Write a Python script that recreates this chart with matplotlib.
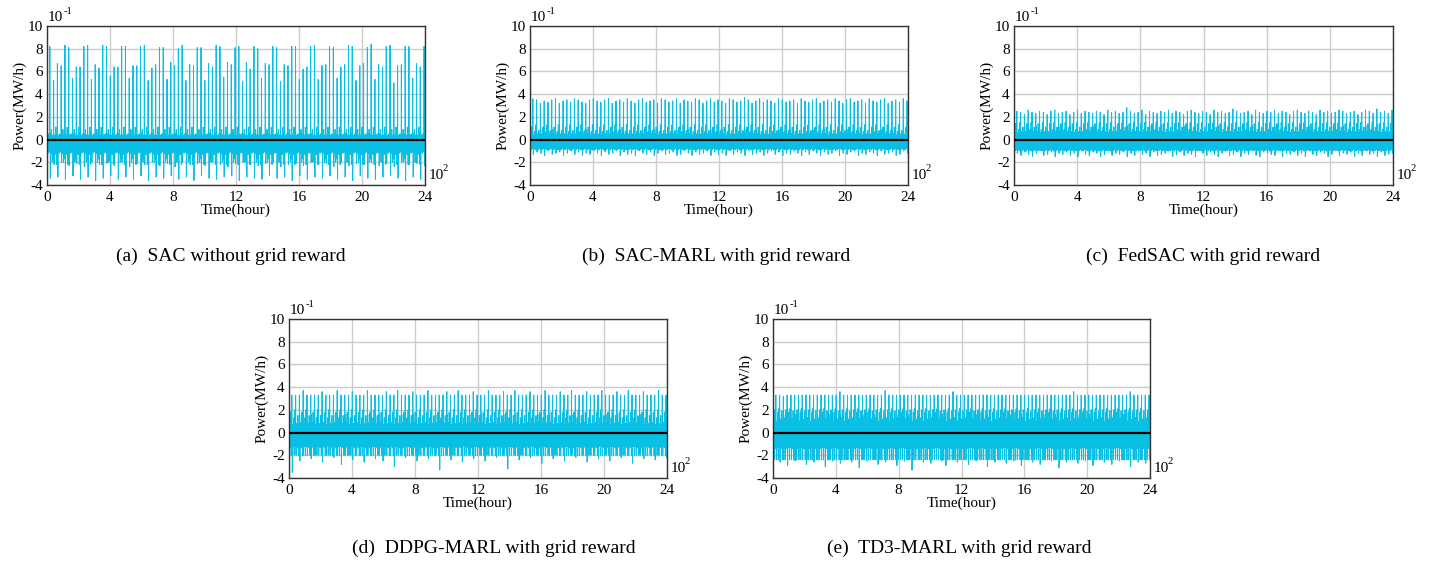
import matplotlib.pyplot as plt
import numpy as np

plt.rcParams['font.family'] = ['Liberation Serif', 'DejaVu Serif']
plt.rcParams['axes.unicode_minus'] = False

# daily peak power (x10^-1 MW/h), one value per day, 100 days
peaks_a = [8.2, 5.2, 6.7, 6.5, 8.3, 8.1, 5.4, 6.4, 6.4, 8.2,
           8.3, 5.3, 6.6, 6.3, 8.3, 8.2, 5.6, 6.4, 6.4, 8.2,
           8.2, 5.4, 6.5, 6.5, 8.2, 8.3, 5.2, 6.3, 6.6, 8.1,
           8.1, 5.3, 6.8, 6.5, 8.0, 8.3, 5.2, 6.6, 6.5, 8.1,
           8.1, 5.2, 6.7, 6.4, 8.3, 8.2, 5.5, 6.8, 6.6, 8.1,
           8.2, 5.1, 6.8, 6.2, 8.2, 8.0, 5.4, 6.7, 6.6, 8.2,
           8.1, 5.1, 6.6, 6.5, 8.2, 8.2, 5.3, 6.2, 6.4, 8.2,
           8.3, 5.3, 6.5, 6.6, 8.2, 8.1, 5.4, 6.4, 6.6, 8.3,
           8.2, 5.2, 6.5, 6.7, 8.1, 8.4, 5.3, 6.6, 6.4, 8.2,
           8.3, 5.0, 6.5, 6.6, 8.2, 8.2, 5.4, 6.7, 6.4, 8.2]
peaks_b = [3.6, 3.5, 3.2, 3.4, 3.3, 3.5, 3.6, 3.2, 3.4, 3.5,
           3.3, 3.6, 3.5, 3.3, 3.2, 3.5, 3.6, 3.4, 3.3, 3.5,
           3.6, 3.2, 3.4, 3.5, 3.3, 3.6, 3.4, 3.2, 3.5, 3.6,
           3.3, 3.4, 3.5, 3.2, 3.6, 3.5, 3.3, 3.4, 3.6, 3.2,
           3.5, 3.4, 3.3, 3.6, 3.5, 3.2, 3.4, 3.6, 3.3, 3.5,
           3.4, 3.2, 3.6, 3.5, 3.3, 3.4, 3.7, 3.5, 3.2, 3.4,
           3.6, 3.3, 3.5, 3.4, 3.2, 3.6, 3.5, 3.3, 3.4, 3.5,
           3.2, 3.6, 3.4, 3.3, 3.5, 3.6, 3.2, 3.4, 3.5, 3.3,
           3.6, 3.4, 3.2, 3.5, 3.6, 3.3, 3.4, 3.5, 3.2, 3.6,
           3.4, 3.3, 3.5, 3.6, 3.2, 3.4, 3.5, 3.3, 3.6, 3.4]
peaks_c = [2.5, 2.4, 2.2, 2.6, 2.4, 2.3, 2.5, 2.4, 2.2, 2.5,
           2.6, 2.3, 2.4, 2.5, 2.2, 2.4, 2.6, 2.3, 2.5, 2.4,
           2.3, 2.5, 2.4, 2.2, 2.6, 2.4, 2.5, 2.3, 2.4, 2.8,
           2.5, 2.3, 2.4, 2.6, 2.2, 2.5, 2.4, 2.3, 2.5, 2.4,
           2.6, 2.3, 2.5, 2.4, 2.2, 2.5, 2.6, 2.4, 2.3, 2.5,
           2.4, 2.2, 2.6, 2.4, 2.5, 2.3, 2.4, 2.7, 2.5, 2.3,
           2.4, 2.5, 2.2, 2.6, 2.4, 2.3, 2.5, 2.4, 2.6, 2.3,
           2.5, 2.4, 2.2, 2.5, 2.6, 2.4, 2.3, 2.5, 2.4, 2.2,
           2.6, 2.4, 2.5, 2.3, 2.4, 2.6, 2.5, 2.3, 2.4, 2.5,
           2.2, 2.4, 2.6, 2.5, 2.3, 2.7, 2.4, 2.5, 2.3, 2.6]
peaks_d = [3.3, 3.3, 3.3, 3.7, 3.3, 3.3, 3.3, 3.3, 3.6, 3.3,
           3.3, 3.3, 3.7, 3.3, 3.3, 3.3, 3.6, 3.3, 3.3, 3.3,
           3.7, 3.3, 3.3, 3.3, 3.3, 3.6, 3.3, 3.3, 3.7, 3.3,
           3.3, 3.3, 3.6, 3.3, 3.3, 3.3, 3.7, 3.3, 3.3, 3.3,
           3.3, 3.6, 3.3, 3.3, 3.7, 3.3, 3.3, 3.3, 3.6, 3.3,
           3.3, 3.3, 3.7, 3.3, 3.3, 3.3, 3.6, 3.3, 3.3, 3.7,
           3.3, 3.3, 3.3, 3.6, 3.3, 3.3, 3.3, 3.7, 3.3, 3.3,
           3.3, 3.6, 3.3, 3.3, 3.7, 3.3, 3.3, 3.3, 3.6, 3.3,
           3.3, 3.3, 3.7, 3.3, 3.3, 3.3, 3.6, 3.3, 3.3, 3.7,
           3.3, 3.3, 3.3, 3.6, 3.3, 3.3, 3.3, 3.7, 3.3, 3.3]
peaks_e = [3.3, 3.3, 3.2, 3.3, 3.3, 3.3, 3.3, 3.3, 3.3, 3.3,
           3.3, 3.3, 3.3, 3.3, 3.3, 3.3, 3.3, 3.6, 3.3, 3.3,
           3.3, 3.3, 3.3, 3.3, 3.3, 3.3, 3.3, 3.3, 3.3, 3.7,
           3.3, 3.3, 3.3, 3.3, 3.3, 3.3, 3.3, 3.3, 3.3, 3.3,
           3.3, 3.3, 3.3, 3.3, 3.3, 3.3, 3.3, 3.6, 3.3, 3.3,
           3.3, 3.3, 3.3, 3.3, 3.3, 3.3, 3.3, 3.3, 3.3, 3.3,
           3.3, 3.3, 3.3, 3.3, 3.3, 3.3, 3.3, 3.3, 3.3, 3.3,
           3.3, 3.3, 3.3, 3.3, 3.3, 3.3, 3.3, 3.3, 3.3, 3.6,
           3.3, 3.3, 3.3, 3.3, 3.3, 3.3, 3.3, 3.3, 3.3, 3.3,
           3.3, 3.3, 3.3, 3.3, 3.6, 3.3, 3.3, 3.3, 3.3, 3.3]

# daily lowest power (x10^-1 MW/h)
troughs_a = [-3.4, -2.2, -3.3, -2.0, -3.5, -2.3, -3.2, -2.1, -3.5, -2.4,
             -3.3, -2.0, -3.6, -2.2, -3.4, -2.1, -3.2, -2.3, -3.5, -2.0,
             -3.3, -2.4, -3.5, -2.1, -3.2, -2.2, -3.6, -2.0, -3.3, -2.3,
             -3.4, -2.1, -3.2, -2.4, -3.5, -2.0, -3.3, -2.2, -3.6, -2.1,
             -3.2, -2.3, -3.4, -2.0, -3.5, -2.2, -3.3, -2.4, -3.2, -2.1,
             -3.6, -2.0, -3.3, -2.2, -3.4, -2.3, -3.5, -2.1, -3.2, -2.0,
             -3.4, -2.4, -3.3, -2.2, -3.6, -2.1, -3.2, -2.3, -3.5, -2.0,
             -3.3, -2.2, -3.4, -2.1, -3.2, -2.4, -3.5, -2.0, -3.3, -2.3,
             -3.6, -2.1, -3.2, -2.2, -3.4, -2.0, -3.5, -2.3, -3.3, -2.1,
             -3.2, -2.4, -3.4, -2.0, -3.6, -2.2, -3.3, -2.1, -3.5, -2.3]
troughs_b = [-1.3, -1.1, -1.2, -1.4, -1.0, -1.3, -1.2, -1.1, -1.4, -1.2,
             -1.0, -1.3, -1.1, -1.4, -1.2, -1.3, -1.0, -1.2, -1.4, -1.1,
             -1.3, -1.2, -1.0, -1.4, -1.1, -1.3, -1.2, -1.4, -1.0, -1.2,
             -1.3, -1.1, -1.4, -1.2, -1.0, -1.3, -1.2, -1.1, -1.4, -1.3,
             -1.0, -1.2, -1.4, -1.1, -1.3, -1.2, -1.0, -1.4, -1.1, -1.3,
             -1.2, -1.4, -1.0, -1.3, -1.1, -1.2, -1.4, -1.0, -1.3, -1.2,
             -1.1, -1.4, -1.2, -1.0, -1.3, -1.1, -1.4, -1.2, -1.3, -1.0,
             -1.2, -1.4, -1.1, -1.3, -1.0, -1.2, -1.4, -1.1, -1.3, -1.2,
             -1.0, -1.4, -1.2, -1.3, -1.1, -1.0, -1.4, -1.2, -1.3, -1.1,
             -1.2, -1.4, -1.0, -1.3, -1.2, -1.1, -1.4, -1.3, -1.0, -1.2]
troughs_c = [-1.2, -1.4, -1.1, -1.3, -1.5, -1.2, -1.0, -1.4, -1.3, -1.1,
             -1.5, -1.2, -1.3, -1.1, -1.4, -1.2, -1.5, -1.0, -1.3, -1.4,
             -1.1, -1.2, -1.5, -1.3, -1.0, -1.4, -1.2, -1.3, -1.1, -1.5,
             -1.2, -1.4, -1.0, -1.3, -1.2, -1.5, -1.1, -1.4, -1.3, -1.2,
             -1.0, -1.5, -1.3, -1.1, -1.4, -1.2, -1.3, -1.5, -1.0, -1.2,
             -1.4, -1.1, -1.3, -1.5, -1.2, -1.0, -1.4, -1.3, -1.1, -1.5,
             -1.2, -1.3, -1.0, -1.4, -1.5, -1.1, -1.2, -1.3, -1.4, -1.0,
             -1.5, -1.2, -1.3, -1.1, -1.4, -1.2, -1.5, -1.0, -1.3, -1.4,
             -1.1, -1.2, -1.5, -1.3, -1.0, -1.4, -1.2, -1.3, -1.1, -1.5,
             -1.2, -1.4, -1.0, -1.3, -1.2, -1.5, -1.1, -1.4, -1.3, -1.2]
troughs_d = [-3.5, -2.0, -2.5, -2.0, -2.0, -2.3, -2.0, -2.0, -2.6, -2.0,
             -2.0, -2.2, -2.0, -2.8, -2.0, -2.0, -2.4, -2.0, -2.0, -2.6,
             -2.0, -2.0, -2.3, -2.0, -2.5, -2.0, -2.0, -3.0, -2.0, -2.0,
             -2.2, -2.0, -2.0, -2.5, -2.0, -2.0, -2.3, -2.0, -2.0, -3.3,
             -2.0, -2.0, -2.4, -2.0, -2.0, -2.6, -2.0, -2.0, -2.3, -2.0,
             -2.0, -2.5, -2.0, -2.0, -2.2, -2.0, -2.0, -3.2, -2.0, -2.0,
             -2.4, -2.0, -2.0, -2.2, -2.0, -2.0, -2.7, -2.0, -2.0, -2.3,
             -2.0, -2.0, -2.5, -2.0, -2.0, -2.2, -2.0, -2.0, -2.6, -2.0,
             -2.0, -2.3, -2.0, -2.0, -2.5, -2.0, -2.0, -2.2, -2.0, -2.0,
             -2.7, -2.0, -2.0, -2.3, -2.0, -2.0, -2.4, -2.0, -2.0, -2.2]
troughs_e = [-2.4, -2.6, -2.4, -2.9, -2.4, -2.5, -2.4, -2.4, -2.8, -2.4,
             -2.6, -2.4, -2.4, -3.0, -2.4, -2.5, -2.4, -2.7, -2.4, -2.4,
             -2.6, -2.4, -3.1, -2.4, -2.5, -2.4, -2.4, -2.8, -2.4, -2.6,
             -2.4, -2.4, -2.9, -2.4, -2.5, -2.4, -3.3, -2.4, -2.4, -2.6,
             -2.4, -2.7, -2.4, -2.4, -2.5, -2.9, -2.4, -2.4, -2.6, -2.4,
             -2.4, -2.8, -2.4, -2.5, -2.4, -2.4, -3.0, -2.4, -2.6, -2.4,
             -2.4, -2.7, -2.4, -2.5, -2.4, -2.9, -2.4, -2.4, -2.6, -2.4,
             -2.8, -2.4, -2.4, -2.5, -2.4, -3.1, -2.4, -2.6, -2.4, -2.4,
             -2.7, -2.4, -2.5, -2.4, -2.9, -2.4, -2.4, -2.6, -2.4, -2.8,
             -2.4, -2.5, -2.4, -2.4, -3.0, -2.4, -2.6, -2.4, -2.7, -2.4]

# typical hourly shape of the other hours, three day types (hour 18 = peak, 21 = trough)
profile_a = [[0.3, 0.1, -0.6, -1.0, 0.4, -0.8, 0.2, -1.2, -0.4, 0.5, -0.9, 0.2,
              -0.6, 0.3, -1.1, 0.2, -0.5, 0.6, 0.0, -0.7, 0.3, 0.0, -1.4, 0.2],
             [0.5, -0.3, -1.2, 0.2, -0.7, 0.9, -1.0, -0.5, 0.3, -2.0, 0.2, -0.6,
              0.4, -0.9, 0.2, -1.7, 0.4, -0.4, 0.0, 0.3, -1.0, 0.0, 0.2, -0.8],
             [0.2, 0.4, -0.9, -0.4, 0.3, -1.3, 0.2, -0.6, 1.1, -1.0, 0.3, -0.5,
              0.2, -2.2, 0.5, -0.3, -0.8, 0.3, 0.0, -0.6, 0.2, 0.0, -1.1, 0.4]]
profile_b = [[0.3, 0.1, -0.5, -0.8, 0.5, -0.6, 0.2, -0.9, -0.3, 1.1, -0.7, 0.2,
              -0.4, 0.4, -0.8, 0.3, -0.3, 0.6, 0.0, -0.5, 0.3, 0.0, -0.8, 0.2],
             [0.4, -0.2, -0.8, 0.3, -0.6, 0.7, -0.8, -0.3, 0.3, -0.9, 0.2, -0.4,
              1.3, -0.7, 0.2, -0.9, 0.4, -0.2, 0.0, 0.5, -0.8, 0.0, 0.2, -0.6],
             [0.2, 0.5, -0.6, -0.3, 0.3, -0.9, 0.2, -0.5, 0.8, -0.7, 0.3, -0.4,
              0.2, -0.8, 0.4, -0.2, -0.6, 0.3, 0.0, -0.5, 0.9, 0.0, -0.7, 0.3]]
profile_c = [[0.4, 0.2, -0.6, -0.9, 0.7, -0.7, 0.3, -1.0, -0.3, 1.4, -0.8, 0.3,
              -0.5, 0.6, -0.9, 0.4, -0.3, 0.8, 0.0, -0.6, 0.4, 0.0, -0.9, 0.3],
             [0.6, -0.3, -0.9, 0.4, -0.7, 0.9, -0.9, -0.4, 0.5, -1.0, 0.3, -0.5,
              1.5, -0.8, 0.3, -1.0, 0.6, -0.2, 0.0, 0.7, -0.9, 0.0, 0.3, -0.7],
             [0.3, 0.7, -0.7, -0.4, 0.5, -1.0, 0.3, -0.6, 1.1, -0.8, 0.4, -0.5,
              0.3, -0.9, 0.6, -0.3, -0.7, 0.5, 0.0, -0.6, 1.2, 0.0, -0.8, 0.4]]
profile_d = [[0.5, 0.2, -0.7, -1.1, 0.9, -0.8, 0.4, -1.3, -0.4, 1.8, -1.0, 0.3,
              -0.6, 0.7, -2.0, 0.4, -0.4, 1.0, 0.0, -0.7, 0.5, 0.0, -1.1, 0.3],
             [0.7, -0.3, -1.2, 0.5, -0.8, 1.3, -1.0, -0.5, 0.6, -2.0, 0.3, -0.6,
              2.0, -0.9, 0.4, -1.2, 0.7, -0.3, 0.0, 0.9, -1.0, 0.0, 0.3, -0.8],
             [0.4, 0.8, -0.9, -0.5, 0.6, -1.3, 0.3, -0.7, 1.5, -1.0, 0.5, -0.6,
              0.4, -2.0, 0.7, -0.3, -0.9, 0.6, 0.0, -0.7, 1.6, 0.0, -1.0, 0.5]]
profile_e = [[0.8, 0.3, -0.9, -1.2, 1.3, -1.0, 0.6, -2.4, -0.5, 2.0, -1.1, 0.5,
              -0.8, 1.1, -1.4, 0.7, -0.5, 1.4, 0.0, -0.9, 0.9, 0.0, -1.2, 0.5],
             [1.0, -0.4, -1.3, 0.7, -1.0, 1.8, -1.2, -0.6, 0.9, -2.4, 0.5, -0.8,
              2.1, -1.1, 0.6, -1.3, 1.1, -0.4, 0.0, 1.3, -1.2, 0.0, 0.5, -1.0],
             [0.6, 1.2, -1.1, -0.6, 0.9, -1.4, 0.5, -0.9, 1.9, -1.2, 0.7, -0.8,
              0.6, -2.4, 1.0, -0.4, -1.1, 0.9, 0.0, -0.9, 1.6, 0.0, -1.2, 0.8]]

captions = ['(a)  SAC without grid reward', '(b)  SAC-MARL with grid reward',
            '(c)  FedSAC with grid reward', '(d)  DDPG-MARL with grid reward',
            '(e)  TD3-MARL with grid reward']

PEAK_HOUR = 18
TROUGH_HOUR = 21


def build(peaks, troughs, profile):
    vals = []
    for d in range(len(peaks)):
        day = list(profile[d % len(profile)])
        day[PEAK_HOUR] = peaks[d]
        day[TROUGH_HOUR] = troughs[d]
        vals.extend(day)
    return np.array(vals)


series = [build(peaks_a, troughs_a, profile_a),
          build(peaks_b, troughs_b, profile_b),
          build(peaks_c, troughs_c, profile_c),
          build(peaks_d, troughs_d, profile_d),
          build(peaks_e, troughs_e, profile_e)]

fig = plt.figure(figsize=(14.3, 5.62), dpi=100)
W, H = 1430, 562
boxes = [(47, 26, 425, 185), (530, 26, 908, 185), (1014, 26, 1393, 185),
         (289, 319, 667, 478), (773, 319, 1150, 478)]
cap_pos = [(231, 256), (716, 256), (1203, 256), (494, 548), (959, 548)]
fs = 11

for i, (x0, y0, x1, y1) in enumerate(boxes):
    ax = fig.add_axes([x0 / W, 1 - y1 / H, (x1 - x0) / W, (y1 - y0) / H])
    y = series[i]
    t = np.arange(len(y)) / 100.0
    ax.plot(t, y, color='#0ABFE4', lw=0.7)
    ax.axhline(0, color='black', lw=1.6, zorder=5)
    ax.set_xlim(0, 24)
    ax.set_ylim(-4, 10)
    ax.set_xticks(range(0, 25, 4))
    ax.set_yticks(range(-4, 11, 2))
    ax.grid(True, color='#cccccc', lw=1.0)
    ax.set_axisbelow(True)
    ax.tick_params(axis='x', length=0, labelsize=fs, pad=4)
    ax.tick_params(axis='y', length=0, labelsize=fs, pad=3)
    for s in ax.spines.values():
        s.set_color('#333333')
        s.set_linewidth(1.0)
    ax.set_ylabel('Power(MW/h)', fontsize=fs, labelpad=1)
    ax.set_xlabel('Time(hour)', fontsize=fs, labelpad=0)
    # axis multipliers
    ax.text(0.003, 1.012, '10', transform=ax.transAxes, fontsize=fs,
            ha='left', va='bottom')
    ax.text(0.045, 1.06, '-1', transform=ax.transAxes, fontsize=fs * 0.7,
            ha='left', va='bottom')
    ax.text(1.01, 0.02, '10', transform=ax.transAxes, fontsize=fs,
            ha='left', va='bottom')
    ax.text(1.046, 0.075, '2', transform=ax.transAxes, fontsize=fs * 0.7,
            ha='left', va='bottom')
    cx, cy = cap_pos[i]
    fig.text(cx / W, 1 - cy / H, captions[i], fontsize=14, ha='center', va='center')

fig.savefig('out.png', dpi=100)
